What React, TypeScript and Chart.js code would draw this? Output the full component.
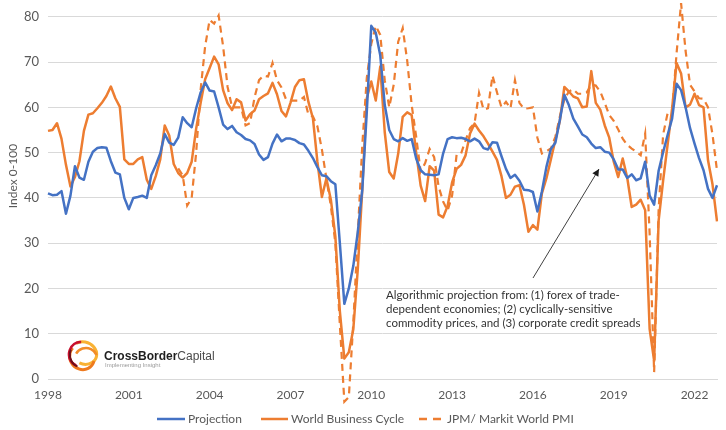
import React, { useEffect, useRef } from 'react';
import { Chart, registerables } from 'chart.js';

Chart.register(...registerables);

// ---- data (bi-monthly samples, Jan 1998 onward) ----
const START_YEAR = 1998;
const STEP_MONTHS = 2;

const projection = [
  41.0, 40.6, 40.7, 41.5, 36.5, 40.5, 47.0, 44.5, 44.0, 48.0,
  50.2, 51.0, 51.2, 51.1, 48.1, 45.6, 45.2, 40.0, 37.5, 40.0,
  40.2, 40.5, 40.0, 45.0, 47.2, 49.8, 54.1, 52.2, 51.7, 53.3,
  57.8, 56.5, 55.6, 59.8, 63.3, 65.5, 63.7, 63.5, 60.0, 56.2,
  55.2, 55.9, 54.5, 53.9, 53.0, 52.7, 51.9, 49.6, 48.4, 49.0,
  52.0, 54.0, 52.5, 53.1, 53.1, 52.8, 52.1, 51.8, 50.4, 48.8,
  46.8, 45.0, 44.8, 43.7, 43.0, 30.0, 16.6, 20.0, 25.0, 32.5,
  41.8, 59.0, 78.0, 76.5, 71.5, 60.5, 55.0, 53.0, 52.5, 53.2,
  52.6, 53.0, 48.7, 46.1, 45.2, 45.1, 45.0, 45.2, 49.8, 53.0,
  53.4, 53.2, 53.3, 53.0, 52.5, 53.1, 52.5, 51.0, 50.7, 52.3,
  52.2, 49.2, 46.4, 44.4, 45.1, 43.8, 41.8, 41.7, 41.3, 37.0,
  41.4, 46.8, 50.8, 52.2, 57.2, 62.8, 60.5, 57.5, 55.8, 54.0,
  53.4, 52.0, 51.0, 51.2, 50.2, 50.0, 48.5, 46.3, 46.3, 44.4,
  45.2, 43.9, 44.3, 48.0, 40.5, 38.5, 46.0, 50.1, 53.9, 57.5,
  65.2, 63.8, 60.0, 55.4, 52.0, 48.8, 46.1, 42.0, 40.0, 42.8,
];

const worldBusinessCycle = [
  54.8, 55.0, 56.5, 53.1, 47.3, 42.5, 44.6, 48.1, 54.8, 58.4,
  58.7, 59.8, 61.0, 62.5, 64.6, 62.0, 60.1, 48.5, 47.5, 47.5,
  48.5, 49.0, 44.0, 42.0, 44.8, 48.5, 56.0, 53.8, 47.5, 45.5,
  44.5, 45.5, 48.0, 55.3, 61.0, 66.2, 68.7, 71.2, 69.5, 63.8,
  60.9, 59.4, 61.8, 61.1, 57.1, 58.5, 59.3, 61.8, 62.5, 63.1,
  65.4, 62.9, 59.2, 58.0, 61.0, 64.5, 66.0, 66.2, 61.2, 57.6,
  48.0, 40.2, 44.3, 39.6, 31.5, 15.0, 4.5, 5.9, 11.0, 24.3,
  42.0, 62.0, 65.7, 61.5, 69.0, 54.5, 45.7, 44.3, 49.8, 57.9,
  58.9, 58.3, 50.0, 42.7, 39.3, 47.0, 46.0, 36.3, 35.7, 38.2,
  43.4, 46.4, 47.3, 49.4, 54.2, 56.4, 54.9, 53.6, 52.0, 50.2,
  48.4, 44.8, 40.0, 40.7, 42.5, 42.8, 38.5, 32.5, 34.0, 33.0,
  41.0, 44.3, 48.5, 52.8, 57.0, 64.5, 63.5, 62.4, 62.0, 60.0,
  60.2, 68.0, 61.0, 59.5, 56.0, 53.3, 48.0, 44.6, 48.7, 44.5,
  38.0, 38.5, 39.6, 37.3, 11.0, 4.0, 35.0, 43.8, 51.8, 59.7,
  69.8, 67.5, 60.0, 60.6, 63.0, 60.5, 60.0, 48.3, 43.0, 34.8,
];

const markitPmi: (number | null)[] = [
  null, null, null, null, null, null, null, null, null, null,
  null, null, null, null, null, null, null, null, null, null,
  null, null, null, null, null, null, null, null, null, 46.5,
  45.0, 38.3, 40.0, 50.0, 64.0, 73.5, 79.3, 78.5, 80.3, 73.5,
  64.5, 60.0, 60.0, 60.0, 56.0, 56.5, 62.2, 66.0, 67.0, 66.8,
  69.8, 66.0, 64.4, 61.8, 61.5, 61.5, 61.5, 62.3, 58.4, 58.0,
  55.8, 50.7, 44.3, 38.2, 30.0, 12.0, -5.0, -4.0, 12.5, 32.0,
  51.7, 66.5, 74.0, 78.0, 76.0, 66.0, 60.0, 65.0, 74.5, 77.5,
  70.3, 60.5, 53.5, 45.8, 47.7, 50.8, 49.0, 42.5, 39.2, 37.2,
  40.5, 49.5, 49.8, 52.7, 55.4, 56.5, 63.2, 59.5, 59.8, 67.0,
  63.3, 60.0, 61.2, 59.8, 66.0, 61.0, 59.7, 59.8, 60.0, 53.3,
  49.8, 50.3, 50.9, 53.5, 58.0, 61.7, 63.5, 64.0, 63.0, 63.0,
  63.3, 65.0, 64.8, 63.5, 61.0, 58.3, 57.0, 55.1, 53.1, 51.7,
  50.9, 50.2, 49.4, 54.2, 32.0, 1.5, 37.5, 54.0, 58.7, 59.0,
  72.0, 83.0, 72.5, 65.0, 63.5, 62.0, 61.9, 60.0, 54.0, 46.0,
];

const xTickYears = [1998, 2001, 2004, 2007, 2010, 2013, 2016, 2019, 2022];
const yMin = 0;
const yMax = 80;
const yStep = 10;
const seriesNames = ['Projection', 'World Business Cycle', 'JPM/ Markit World PMI'];
const yAxisTitle = 'Index 0-100';
const annotationLines = [
  'Algorithmic projection from: (1) forex of trade-',
  'dependent economies; (2) cyclically-sensitive',
  'commodity prices, and (3) corporate credit spreads',
];

const labels: string[] = projection.map((_, j) => {
  const m = j * STEP_MONTHS;
  const y = START_YEAR + Math.floor(m / 12);
  const mo = (m % 12) + 1;
  return `${y}-${mo < 10 ? '0' + mo : mo}`;
});

const BLUE = '#4472C4';
const ORANGE = '#ED7D31';
const GREY_TEXT = '#595959';
const FONT = 'Lato, "Liberation Sans", sans-serif';

const decorPlugin = {
  id: 'decor',
  afterDraw(chart: any) {
    const ctx: CanvasRenderingContext2D = chart.ctx;
    ctx.save();

    // y axis title
    ctx.save();
    ctx.translate(13, 176);
    ctx.rotate(-Math.PI / 2);
    ctx.font = `12px ${FONT}`;
    ctx.fillStyle = GREY_TEXT;
    ctx.textAlign = 'center';
    ctx.textBaseline = 'middle';
    ctx.fillText(yAxisTitle, 0, 0);
    ctx.restore();

    // legend
    const ly = 419;
    const items = [
      { x1: 157, x2: 185, tx: 188, color: BLUE, dash: [] as number[] },
      { x1: 261, x2: 288, tx: 291, color: ORANGE, dash: [] as number[] },
      { x1: 419, x2: 444, tx: 447, color: ORANGE, dash: [8, 6] },
    ];
    items.forEach((it, i) => {
      ctx.beginPath();
      ctx.setLineDash(it.dash);
      ctx.strokeStyle = it.color;
      ctx.lineWidth = 2.5;
      ctx.moveTo(it.x1, ly);
      ctx.lineTo(it.x2, ly);
      ctx.stroke();
      ctx.setLineDash([]);
      ctx.font = `12px ${FONT}`;
      ctx.fillStyle = GREY_TEXT;
      ctx.textAlign = 'left';
      ctx.textBaseline = 'middle';
      ctx.fillText(seriesNames[i], it.tx, ly);
    });

    // annotation text
    ctx.font = `11.5px ${FONT}`;
    ctx.fillStyle = '#333333';
    ctx.textAlign = 'left';
    ctx.textBaseline = 'middle';
    annotationLines.forEach((t, i) => ctx.fillText(t, 386, 295 + i * 14.3));

    // arrow
    const ax0 = 533, ay0 = 278, ax1 = 599, ay1 = 169;
    ctx.beginPath();
    ctx.strokeStyle = '#404040';
    ctx.lineWidth = 1;
    ctx.moveTo(ax0, ay0);
    ctx.lineTo(ax1, ay1);
    ctx.stroke();
    const ang = Math.atan2(ay1 - ay0, ax1 - ax0);
    const hl = 7, hw = 3.5;
    ctx.beginPath();
    ctx.fillStyle = '#1a1a1a';
    ctx.moveTo(ax1, ay1);
    ctx.lineTo(ax1 - hl * Math.cos(ang) + hw * Math.sin(ang), ay1 - hl * Math.sin(ang) - hw * Math.cos(ang));
    ctx.lineTo(ax1 - hl * Math.cos(ang) - hw * Math.sin(ang), ay1 - hl * Math.sin(ang) + hw * Math.cos(ang));
    ctx.closePath();
    ctx.fill();

    // logo icon (swirl of rings)
    const rings = [
      { cx: 84, cy: 353, rx: 13, ry: 11, rot: 0.4, color: '#F9B233', lw: 3, a0: -2.6, a1: 1.6 },
      { cx: 82, cy: 357, rx: 13, ry: 12, rot: 0.9, color: '#EE7A1E', lw: 3, a0: -0.6, a1: 3.0 },
      { cx: 80, cy: 354, rx: 11, ry: 12, rot: 0.2, color: '#C8102E', lw: 2.5, a0: 1.7, a1: 4.6 },
      { cx: 79, cy: 356, rx: 9, ry: 11, rot: -0.3, color: '#6E0F1B', lw: 2, a0: 2.1, a1: 4.0 },
      { cx: 86, cy: 358, rx: 11, ry: 10, rot: 0.0, color: '#F28C28', lw: 2.5, a0: 3.6, a1: 6.0 },
    ];
    rings.forEach((r) => {
      ctx.beginPath();
      ctx.strokeStyle = r.color;
      ctx.lineWidth = r.lw;
      ctx.ellipse(r.cx, r.cy, r.rx, r.ry, r.rot, r.a0, r.a1);
      ctx.stroke();
    });

    // logo text
    ctx.textBaseline = 'alphabetic';
    ctx.font = `bold 12px "Liberation Sans", Arial, sans-serif`;
    ctx.fillStyle = '#1f1f1f';
    ctx.fillText('CrossBorder', 104, 360);
    const w = ctx.measureText('CrossBorder').width;
    ctx.font = `12px "Liberation Sans", Arial, sans-serif`;
    ctx.fillStyle = '#4a4a4a';
    ctx.fillText('Capital', 104 + w, 360);
    ctx.font = `6px "Liberation Sans", Arial, sans-serif`;
    ctx.fillStyle = '#9a9a9a';
    ctx.fillText('Implementing Insight', 105, 367);

    ctx.restore();
  },
};

export default function App() {
  const ref = useRef<HTMLCanvasElement>(null);

  useEffect(() => {
    if (!ref.current) return;
    const chart = new Chart(ref.current, {
      type: 'line',
      data: {
        labels,
        datasets: [
          {
            label: seriesNames[0],
            data: projection,
            borderColor: BLUE,
            backgroundColor: BLUE,
            borderWidth: 2.5,
            pointRadius: 0,
            tension: 0,
            borderJoinStyle: 'round',
            order: 1,
          },
          {
            label: seriesNames[1],
            data: worldBusinessCycle,
            borderColor: ORANGE,
            backgroundColor: ORANGE,
            borderWidth: 2.5,
            pointRadius: 0,
            tension: 0,
            borderJoinStyle: 'round',
            order: 3,
          },
          {
            label: seriesNames[2],
            data: markitPmi,
            borderColor: ORANGE,
            backgroundColor: ORANGE,
            borderWidth: 2.2,
            borderDash: [7, 5],
            pointRadius: 0,
            tension: 0,
            spanGaps: false,
            clip: false,
            order: 2,
          } as any,
        ],
      },
      options: {
        responsive: false,
        animation: false,
        devicePixelRatio: 1,
        layout: { padding: { top: 14, right: 0, bottom: 0, left: 0 } },
        plugins: {
          legend: { display: false },
          tooltip: { enabled: false },
        },
        scales: {
          x: {
            type: 'category',
            offset: false,
            grid: { display: false, drawTicks: false },
            border: { display: true, color: '#d9d9d9', width: 1 },
            ticks: {
              autoSkip: false,
              maxRotation: 0,
              minRotation: 0,
              padding: 9,
              color: GREY_TEXT,
              font: { family: FONT, size: 12 },
              callback: (_v: any, i: number) => {
                const [yy, mm] = labels[i].split('-');
                return mm === '01' && xTickYears.includes(Number(yy)) ? yy : '';
              },
            },
            afterFit: (scale: any) => {
              scale.height = 51;
            },
          },
          y: {
            min: yMin,
            max: yMax,
            grid: { color: '#d9d9d9', lineWidth: 1, drawTicks: false },
            border: { display: false },
            ticks: {
              stepSize: yStep,
              padding: 9,
              color: GREY_TEXT,
              font: { family: FONT, size: 13 },
            },
            afterFit: (scale: any) => {
              scale.width = 48;
            },
          },
        },
      },
      plugins: [decorPlugin],
    });
    return () => chart.destroy();
  }, []);

  return (
    <div style={{ position: 'fixed', left: 0, top: 0, width: 726, height: 430, background: '#fff' }}>
      <canvas ref={ref} width={726} height={430} style={{ width: 726, height: 430, display: 'block' }} />
    </div>
  );
}
